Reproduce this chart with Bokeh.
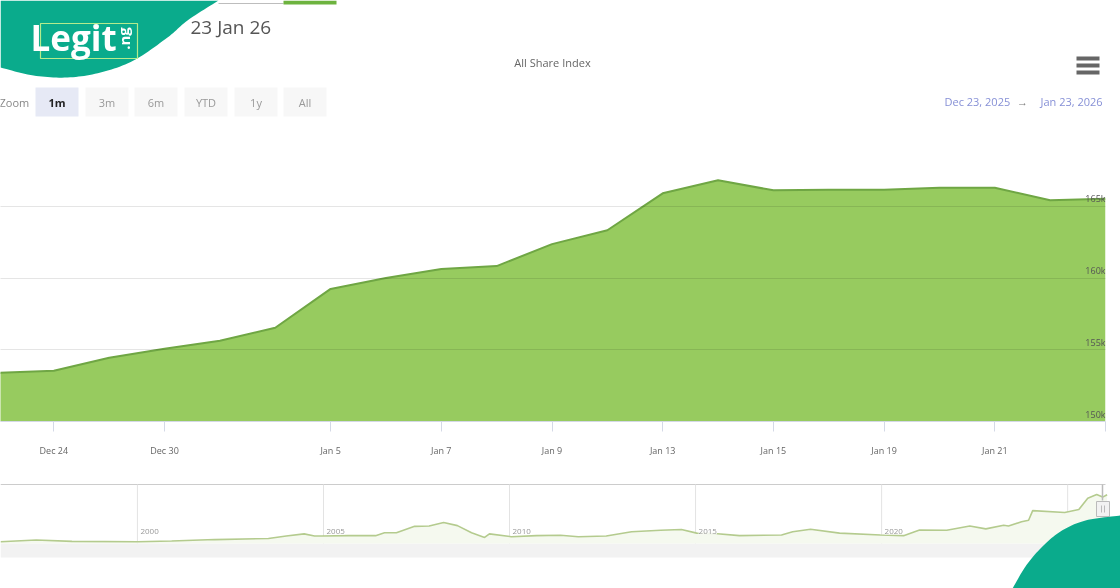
"""All Share Index area chart with navigator, drawn with Bokeh."""

import numpy as np

from bokeh.core.properties import value
from bokeh.embed import file_html
from bokeh.layouts import column
from bokeh.models import FixedTicker, Label, Range1d
from bokeh.plotting import figure
from bokeh.resources import INLINE

# trading sessions shown in the main chart, one value per session
SESSION_INDEX = list(range(21))
ASI_VALUES = [
    153400, 153540, 154440, 155070, 155630, 156530, 159240, 160000, 160630, 160830,
    162360, 163330, 165900, 166810, 166110, 166150, 166150, 166290, 166290, 165420, 165520,
]
TICK_SESSIONS = [1, 3, 6, 8, 10, 12, 14, 16, 18, 20]
TICK_LABELS = ["Dec 24", "Dec 30", "Jan 5", "Jan 7", "Jan 9", "Jan 13", "Jan 15", "Jan 19", "Jan 21", "Jan 23"]
Y_TICKS = [150000, 155000, 160000, 165000, 170000]
Y_LABELS = ["150k", "155k", "160k", "165k", ""]

# long history in the navigator
NAV_YEARS = [
    1996.32, 1997.28, 1998.24, 2000.0, 2000.92, 2002.08, 2003.52, 2004.0, 2004.48, 2004.76,
    2004.95, 2005.67, 2006.4, 2006.64, 2006.96, 2007.45, 2007.84, 2008.23, 2008.6, 2008.98,
    2009.33, 2009.46, 2010.05, 2010.72, 2011.37, 2011.85, 2012.6, 2013.28, 2014.06, 2014.62,
    2015.03, 2015.51, 2016.18, 2017.31, 2017.61, 2018.09, 2018.87, 2019.97, 2020.59, 2021.02,
    2021.75, 2022.37, 2022.8, 2023.28, 2023.41, 2023.76, 2023.95, 2024.06, 2024.92, 2025.3,
    2025.54, 2025.78, 2025.94, 2026.06,
]
NAV_VALUES = [
    6000, 12100, 7300, 6000, 8500, 13300, 16900, 25400, 32700, 25400,
    25400, 26600, 26600, 36300, 36300, 58100, 59300, 71400, 60500, 36300,
    20600, 32700, 23000, 26600, 27800, 23000, 25400, 39900, 44800, 47200,
    35100, 33900, 26600, 29000, 39900, 48400, 35100, 29000, 26600, 46000,
    44800, 59300, 49600, 61700, 59300, 73800, 78700, 111300, 105300, 115000,
    153700, 165800, 157300, 165500,
]
NAV_TICK_YEARS = [2000, 2005, 2010, 2015, 2020, 2025]
NAV_TICK_LABELS = ["2000", "2005", "2010", "2015", "2020", ""]

ZOOM_BUTTONS = ["1m", "3m", "6m", "YTD", "1y", "All"]
BUTTON_LEFT = [35, 85, 134, 184, 234, 283]

COLORS = {
    "teal": "#0aab8c",
    "area": "#97cb5f",
    "line": "#6fa644",
    "text": "#666666",
    "muted": "#999999",
    "link": "#8690d6",
    "nav_line": "#b4cb8e",
    "nav_fill": "#f5f9ef",
}
FONT = "Open Sans"


def _base_figure(**kwargs):
    p = figure(
        output_backend="svg",
        toolbar_location=None,
        min_border=0,
        background_fill_color="white",
        border_fill_color="white",
        outline_line_color=None,
        **kwargs,
    )
    return p


def _text(p, x, y, text, size, color, align="left", style="normal", **kwargs):
    p.text(
        [x], [y], text=[text], text_font=value(FONT), text_font_size=size, text_color=color,
        text_align=align, text_baseline="middle", text_font_style=style, **kwargs,
    )


def _smooth(xs, ys, n=12):
    # catmull-rom through the outline points of the logo shapes
    pts = np.column_stack([xs, ys]).astype(float)
    pts = np.vstack([pts[0], pts, pts[-1]])
    out = []
    for i in range(1, len(pts) - 2):
        p0, p1, p2, p3 = pts[i - 1], pts[i], pts[i + 1], pts[i + 2]
        for t in np.linspace(0, 1, n, endpoint=False):
            out.append(0.5 * (2 * p1 + (p2 - p0) * t + (2 * p0 - 5 * p1 + 4 * p2 - p3) * t ** 2
                              + (3 * p1 - p0 - 3 * p2 + p3) * t ** 3))
    out.append(pts[-2])
    out = np.array(out)
    return out[:, 0].tolist(), out[:, 1].tolist()


def _header():
    # page furniture, laid out in page pixels
    p = _base_figure(frame_width=1120, frame_height=134, x_range=Range1d(0, 1120), y_range=Range1d(134, 0),
                     x_axis_location=None, y_axis_location=None)
    p.grid.visible = False

    p.segment([218], [3], [283], [3], line_color="#bdbdbd", line_width=1)
    p.quad(left=[283], right=[336], top=[0], bottom=[4], color="#6db33f", line_color=None)
    _text(p, 190, 26, "23 Jan 26", "19px", "#555555")
    _text(p, 552, 62, "All Share Index", "11px", COLORS["text"], align="center")

    _text(p, -1, 102, "Zoom", "11px", "#888888")
    for name, left in zip(ZOOM_BUTTONS, BUTTON_LEFT):
        active = name == "1m"
        p.quad(left=[left], right=[left + 43], top=[87], bottom=[116],
               color="#e6e9f5" if active else "#f7f7f7", line_color=None)
        _text(p, left + 21.5, 102, name, "11px", "#222222" if active else COLORS["muted"],
              align="center", style="bold" if active else "normal")

    _text(p, 944, 101, "Dec 23, 2025", "11px", COLORS["link"])
    _text(p, 1022, 101, "\u2192", "11px", "#777777", align="center")
    _text(p, 1040, 101, "Jan 23, 2026", "11px", COLORS["link"])
    for top in [56, 63, 70]:
        p.quad(left=[1076], right=[1099], top=[top], bottom=[top + 4], color="#666666", line_color=None)

    # logo
    edge_x, edge_y = _smooth([0, 33, 67, 100, 133, 167, 187, 218], [67, 75, 77, 72, 60, 37, 20, 0])
    p.patch(edge_x + [0], edge_y + [0], color=COLORS["teal"], line_color=None)
    p.quad(left=[40], right=[137], top=[23], bottom=[58], fill_color=None,
           line_color="#b4ec8c", line_width=1.2)
    _text(p, 30, 37, "Legit", "35px", "#ffffff", style="bold")
    _text(p, 123, 38, ".ng", "15px", "#ffffff", align="center", style="bold", angle=1.5708)
    return p


def _main_chart():
    p = _base_figure(frame_width=1105, frame_height=287, x_range=Range1d(0.036, 20.0),
                     y_range=Range1d(150000, 170000), y_axis_location=None,
                     min_border_right=15, min_border_bottom=61, min_border_top=0)
    p.xgrid.visible = False
    p.ygrid.ticker = FixedTicker(ticks=Y_TICKS)
    p.ygrid.grid_line_color = "#000000"
    p.ygrid.grid_line_alpha = 0.1
    p.ygrid.level = "overlay"

    p.varea(SESSION_INDEX, [Y_TICKS[0]] * len(SESSION_INDEX), ASI_VALUES, fill_color=COLORS["area"])
    p.line(SESSION_INDEX, ASI_VALUES, line_color=COLORS["line"], line_width=2)

    for y, label in zip(Y_TICKS, Y_LABELS):
        p.add_layout(Label(x=SESSION_INDEX[-1], y=y, text=label, text_align="right", text_baseline="bottom",
                           y_offset=1, text_font=FONT, text_font_size="9px", text_color="#555555"))

    p.xaxis.ticker = FixedTicker(ticks=TICK_SESSIONS)
    # last label sits left of its tick, see below
    p.xaxis.major_label_overrides = {s: t for s, t in zip(TICK_SESSIONS[:-1], TICK_LABELS[:-1])} | {TICK_SESSIONS[-1]: ""}
    p.xaxis.major_label_text_font = FONT
    p.xaxis.major_label_text_font_size = "9px"
    p.xaxis.major_label_text_color = COLORS["text"]
    p.xaxis.major_label_standoff = 12
    p.xaxis.major_tick_out = 10
    p.xaxis.major_tick_in = 0
    p.xaxis.minor_tick_line_color = None
    p.xaxis.major_tick_line_color = "#d4d9e6"
    p.xaxis.axis_line_color = "#d4d9e6"
    p.add_layout(Label(x=TICK_SESSIONS[-1], y=Y_TICKS[0], text=TICK_LABELS[-1], text_align="right",
                       text_baseline="middle", y_offset=-28, text_font=FONT, text_font_size="9px",
                       text_color=COLORS["text"]))
    return p


def _navigator():
    p = _base_figure(frame_width=1120, frame_height=106, x_range=Range1d(1996.32, 2026.42),
                     y_range=Range1d(-152550, 206780), x_axis_location=None, y_axis_location=None)
    p.grid.visible = False
    p.extra_x_ranges["px"] = Range1d(0, 1120)
    p.extra_y_ranges["px"] = Range1d(106, 0)

    # scrollbar track and top rule, in page pixels below the frame
    p.quad(left=[0], right=[1105], top=[61], bottom=[75], color="#f2f2f2", line_color=None,
           x_range_name="px", y_range_name="px")
    p.segment([0], [2], [1105], [2], line_color="#cccccc", line_width=1, x_range_name="px", y_range_name="px")

    p.segment(NAV_TICK_YEARS, [0] * len(NAV_TICK_YEARS), NAV_TICK_YEARS, [200000] * len(NAV_TICK_YEARS),
              line_color="#e3e3e3", line_width=1)
    p.varea(NAV_YEARS, [0] * len(NAV_YEARS), NAV_VALUES, fill_color=COLORS["nav_fill"])
    p.line(NAV_YEARS, NAV_VALUES, line_color=COLORS["nav_line"], line_width=1.6)

    for year, label in zip(NAV_TICK_YEARS, NAV_TICK_LABELS):
        if label:
            p.add_layout(Label(x=year, y=0, text=label, x_offset=3, y_offset=9, text_font=FONT,
                               text_font_size="8px", text_color="#999999", background_fill_color="white",
                               background_fill_alpha=0.85))

    # range handle at the right end
    p.segment([1102], [2], [1102], [18], line_color="#bbbbbb", line_width=1.5, x_range_name="px", y_range_name="px")
    p.quad(left=[1096], right=[1109], top=[19], bottom=[34], fill_color="#f2f2f2", line_color="#bbbbbb",
           x_range_name="px", y_range_name="px")
    p.segment([1101, 1104], [23, 23], [1101, 1104], [30, 30], line_color="#bbbbbb", x_range_name="px", y_range_name="px")

    # logo corner
    edge_x, edge_y = _smooth([1012, 1025, 1040, 1060, 1085, 1120], [106, 84, 66, 49, 38, 33])
    p.patch(edge_x + [1120], edge_y + [106], color=COLORS["teal"], line_color=None,
            x_range_name="px", y_range_name="px")
    return p


layout = column(_header(), _main_chart(), _navigator(), spacing=0, width=1120, height=588,
                styles={"position": "fixed", "left": "0px", "top": "0px", "width": "1120px", "height": "588px"})

open("out.html", "w").write(file_html(layout, INLINE))
